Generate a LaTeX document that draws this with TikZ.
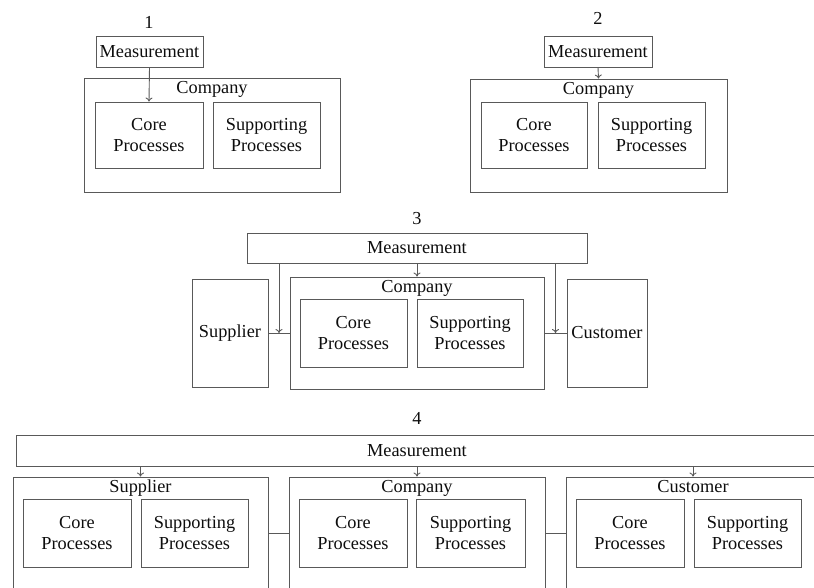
\documentclass[tikz,border=0pt]{standalone}
\usepackage{fontspec}
\setmainfont{Liberation Serif}
\usetikzlibrary{arrows.meta,calc}
\definecolor{linegray}{gray}{0.35}
\definecolor{txtgray}{gray}{0.05}
\newcommand\myfs{\fontsize{18.3}{21.5}\selectfont}
\tikzset{
  bx/.style={draw=linegray, line width=0.9pt, inner sep=0pt, align=center, text=txtgray, font=\myfs},
  lbl/.style={anchor=base, inner sep=0pt, text=txtgray, font=\myfs},
  num/.style={inner sep=0pt, text=txtgray, font=\myfs},
  conn/.style={draw=linegray, line width=0.9pt},
  arr/.style={conn, -{To[length=4pt,width=7pt]}}
}
\begin{document}
\begin{tikzpicture}[x=1pt,y=-1pt]
\useasboundingbox (0,0) rectangle (814,588);
\clip (0,0) rectangle (814,588);
% ---------- Panel 1 ----------
\node[num] (n1) at (149,22.5) {1};
\node[bx, minimum width=107, minimum height=31] (m1) at (149.5,51.5) {Measurement};
\node[bx, minimum width=256, minimum height=114] (comp1) at (212,135) {};
\node[lbl] (lc1) at ([yshift=-15.5pt]comp1.north) {Company};
\node[bx, minimum width=108, minimum height=66] (core1) at (149,135) {Core\\Processes};
\node[bx, minimum width=107, minimum height=66] (sup1) at (266.5,135) {Supporting\\Processes};
\draw[arr] (m1.south) -- (core1.north);
% ---------- Panel 2 ----------
\node[num] (n2) at (598,18.5) {2};
\node[bx, minimum width=108, minimum height=31] (m2) at (598,51.5) {Measurement};
\node[bx, minimum width=257, minimum height=113] (comp2) at (598.5,135.5) {};
\node[lbl] (lc2) at ([yshift=-15.5pt]comp2.north) {Company};
\node[bx, minimum width=106, minimum height=66] (core2) at (534,135) {Core\\Processes};
\node[bx, minimum width=107, minimum height=66] (sup2) at (651.5,135) {Supporting\\Processes};
\draw[arr] (m2.south) -- (comp2.north);
% ---------- Panel 3 ----------
\node[num] (n3) at (417,219) {3};
\node[bx, minimum width=340, minimum height=30] (m3) at (417,248) {Measurement};
\node[bx, minimum width=76, minimum height=108] (sup3) at (230,333) {Supplier};
\node[bx, minimum width=254, minimum height=112] (comp3) at (417,333) {};
\node[lbl] (lc3) at ([yshift=-15.5pt]comp3.north) {Company};
\node[bx, minimum width=80, minimum height=108] (cust3) at (607,333) {Customer};
\node[bx, minimum width=107, minimum height=68] (core3) at (353.5,333) {Core\\Processes};
\node[bx, minimum width=106, minimum height=68] (supp3) at (470,333) {Supporting\\Processes};
\draw[conn] (sup3.east) -- (comp3.west);
\draw[conn] (comp3.east) -- (cust3.west);
\coordinate (l3) at ($(sup3.east)!0.5!(comp3.west)$);
\coordinate (r3) at ($(comp3.east)!0.5!(cust3.west)$);
\draw[arr] (m3.south) -- (comp3.north);
\draw[arr] (m3.south -| l3) -- (l3);
\draw[arr] (m3.south -| r3) -- (r3);
% ---------- Panel 4 ----------
\node[num] (n4) at (417,418) {4};
\node[bx, minimum width=802, minimum height=31] (m4) at (417,450.5) {Measurement};
\node[bx, minimum width=255, minimum height=112] (sup4) at (140.5,533) {};
\node[lbl] (ls4) at ([yshift=-15.5pt]sup4.north) {Supplier};
\node[bx, minimum width=256, minimum height=112] (comp4) at (417,533) {};
\node[lbl] (lc4) at ([yshift=-15.5pt]comp4.north) {Company};
\node[bx, minimum width=254, minimum height=112] (cust4) at (693,533) {};
\node[lbl] (lu4) at ([yshift=-15.5pt]cust4.north) {Customer};
\node[bx, minimum width=108, minimum height=68] (core4s) at (77,533) {Core\\Processes};
\node[bx, minimum width=107, minimum height=68] (supp4s) at (194.5,533) {Supporting\\Processes};
\node[bx, minimum width=108, minimum height=68] (core4c) at (353,533) {Core\\Processes};
\node[bx, minimum width=109, minimum height=68] (supp4c) at (470.5,533) {Supporting\\Processes};
\node[bx, minimum width=108, minimum height=68] (core4u) at (630,533) {Core\\Processes};
\node[bx, minimum width=107, minimum height=68] (supp4u) at (747.5,533) {Supporting\\Processes};
\draw[conn] (sup4.east) -- (comp4.west);
\draw[conn] (comp4.east) -- (cust4.west);
\draw[arr] (m4.south -| sup4.north) -- (sup4.north);
\draw[arr] (m4.south -| comp4.north) -- (comp4.north);
\draw[arr] (m4.south -| cust4.north) -- (cust4.north);
\end{tikzpicture}
\end{document}
